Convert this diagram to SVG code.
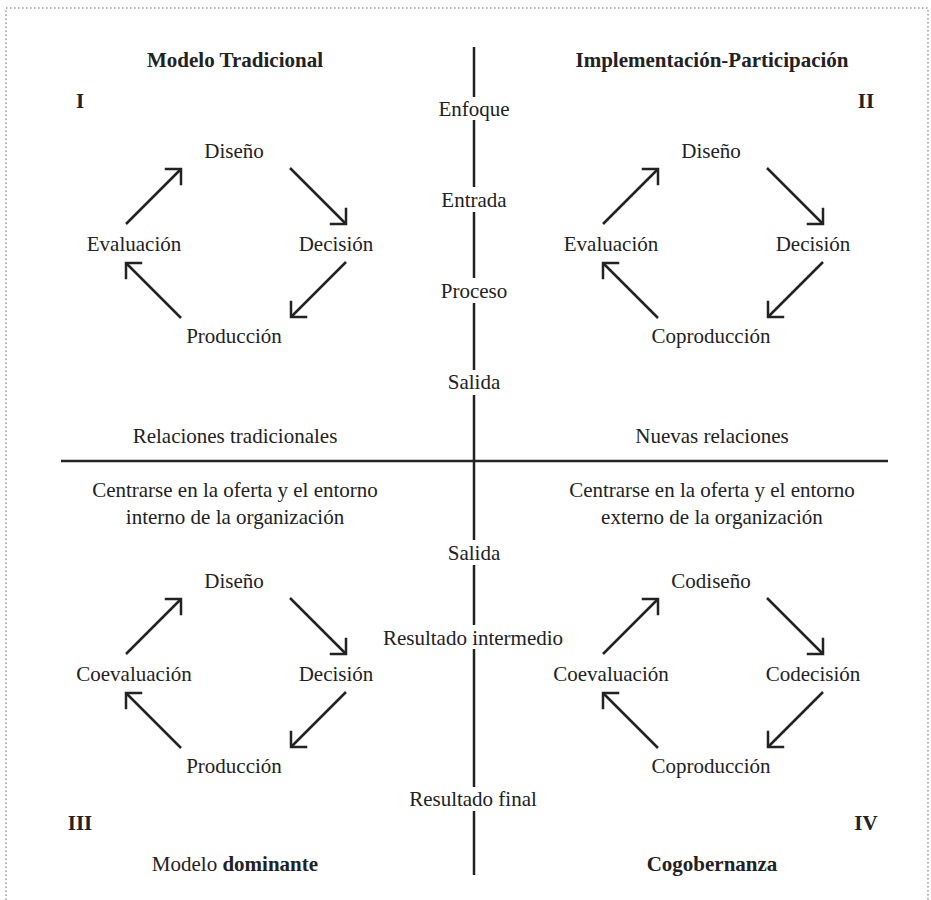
<svg xmlns="http://www.w3.org/2000/svg" width="931" height="900" viewBox="0 0 931 900">
  <style>
    text { font-family: "Liberation Serif", "Times New Roman", serif; font-size: 21px; fill: #222; text-anchor: middle; }
    .b { font-weight: bold; }
    .axis { stroke: #222; stroke-width: 2.5; fill: none; }
    .arr { stroke: #222; stroke-width: 2.5; fill: none; marker-end: url(#head); }
  </style>
  <defs>
    <marker id="head" markerUnits="userSpaceOnUse" markerWidth="30" markerHeight="30" viewBox="-15 -15 30 30" refX="0" refY="0" orient="auto" overflow="visible">
      <path d="M-10.6,-10.6 L0,0 L-10.6,10.6" fill="none" stroke="#222" stroke-width="2.5" stroke-linecap="square"/>
    </marker>
  </defs>

  <rect x="0" y="0" width="931" height="900" fill="#fff"/>
  <!-- dotted frame -->
  <rect x="6" y="8" width="922" height="910" fill="none" stroke="#999" stroke-width="1.5" stroke-dasharray="1.5 2.5"/>

  <!-- axes -->
  <g id="axes">
    <line class="axis" x1="61" y1="461" x2="888" y2="461"/>
    <path class="axis" d="M474,47 V97 M474,120 V187 M474,212 V278 M474,303 V370 M474,395 V540 M474,565 V625 M474,649 V787 M474,811 V875"/>
  </g>

  <!-- quadrant headings -->
  <g id="q1-title"><text class="b" x="235" y="67">Modelo Tradicional</text></g>
  <g id="q2-title"><text class="b" x="712" y="67">Implementación-Participación</text></g>
  <g id="q1-num"><text class="b" x="80" y="108">I</text></g>
  <g id="q2-num"><text class="b" x="866" y="108">II</text></g>
  <g id="q3-num"><text class="b" x="80" y="830">III</text></g>
  <g id="q4-num"><text class="b" x="866" y="830">IV</text></g>
  <g id="q3-title"><text x="235" y="871">Modelo <tspan class="b">dominante</tspan></text></g>
  <g id="q4-title"><text class="b" x="712" y="871">Cogobernanza</text></g>

  <!-- axis stages -->
  <g id="stage-enfoque"><text x="474" y="116">Enfoque</text></g>
  <g id="stage-entrada"><text x="474" y="207">Entrada</text></g>
  <g id="stage-proceso"><text x="474" y="298">Proceso</text></g>
  <g id="stage-salida-1"><text x="474" y="389">Salida</text></g>
  <g id="stage-salida-2"><text x="474" y="560">Salida</text></g>
  <g id="stage-intermedio"><text x="473" y="645">Resultado intermedio</text></g>
  <g id="stage-final"><text x="473" y="806">Resultado final</text></g>

  <!-- relations / focus -->
  <g id="rel-left"><text x="235" y="443">Relaciones tradicionales</text></g>
  <g id="rel-right"><text x="712" y="443">Nuevas relaciones</text></g>
  <g id="focus-left"><text x="235" y="497">Centrarse en la oferta y el entorno</text><text x="235" y="524">interno de la organización</text></g>
  <g id="focus-right"><text x="712" y="497">Centrarse en la oferta y el entorno</text><text x="712" y="524">externo de la organización</text></g>

  <!-- cycle I -->
  <g id="c1-diseno"><text x="234" y="158">Diseño</text></g>
  <g id="c1-evaluacion"><text x="134" y="251">Evaluación</text></g>
  <g id="c1-decision"><text x="336" y="251">Decisión</text></g>
  <g id="c1-produccion"><text x="234" y="343">Producción</text></g>

  <!-- cycle II -->
  <g id="c2-diseno"><text x="711" y="158">Diseño</text></g>
  <g id="c2-evaluacion"><text x="611" y="251">Evaluación</text></g>
  <g id="c2-decision"><text x="813" y="251">Decisión</text></g>
  <g id="c2-coproduccion"><text x="711" y="343">Coproducción</text></g>

  <!-- cycle III -->
  <g id="c3-diseno"><text x="234" y="588">Diseño</text></g>
  <g id="c3-coevaluacion"><text x="134" y="681">Coevaluación</text></g>
  <g id="c3-decision"><text x="336" y="681">Decisión</text></g>
  <g id="c3-produccion"><text x="234" y="773">Producción</text></g>

  <!-- cycle IV -->
  <g id="c4-codiseno"><text x="711" y="588">Codiseño</text></g>
  <g id="c4-coevaluacion"><text x="611" y="681">Coevaluación</text></g>
  <g id="c4-codecision"><text x="813" y="681">Codecisión</text></g>
  <g id="c4-coproduccion"><text x="711" y="773">Coproducción</text></g>

  <!-- cycle arrows -->
  <g id="connectors">
    <g id="cycle-1">
      <line class="arr" x1="126" y1="224" x2="181" y2="169"/>
      <line class="arr" x1="290" y1="168" x2="346" y2="224"/>
      <line class="arr" x1="346" y1="262" x2="291" y2="317"/>
      <line class="arr" x1="181" y1="318" x2="126" y2="263"/>
    </g>
    <g id="cycle-2" transform="translate(477,0)">
      <line class="arr" x1="126" y1="224" x2="181" y2="169"/>
      <line class="arr" x1="290" y1="168" x2="346" y2="224"/>
      <line class="arr" x1="346" y1="262" x2="291" y2="317"/>
      <line class="arr" x1="181" y1="318" x2="126" y2="263"/>
    </g>
    <g id="cycle-3" transform="translate(0,430)">
      <line class="arr" x1="126" y1="224" x2="181" y2="169"/>
      <line class="arr" x1="290" y1="168" x2="346" y2="224"/>
      <line class="arr" x1="346" y1="262" x2="291" y2="317"/>
      <line class="arr" x1="181" y1="318" x2="126" y2="263"/>
    </g>
    <g id="cycle-4" transform="translate(477,430)">
      <line class="arr" x1="126" y1="224" x2="181" y2="169"/>
      <line class="arr" x1="290" y1="168" x2="346" y2="224"/>
      <line class="arr" x1="346" y1="262" x2="291" y2="317"/>
      <line class="arr" x1="181" y1="318" x2="126" y2="263"/>
    </g>
  </g>
</svg>
